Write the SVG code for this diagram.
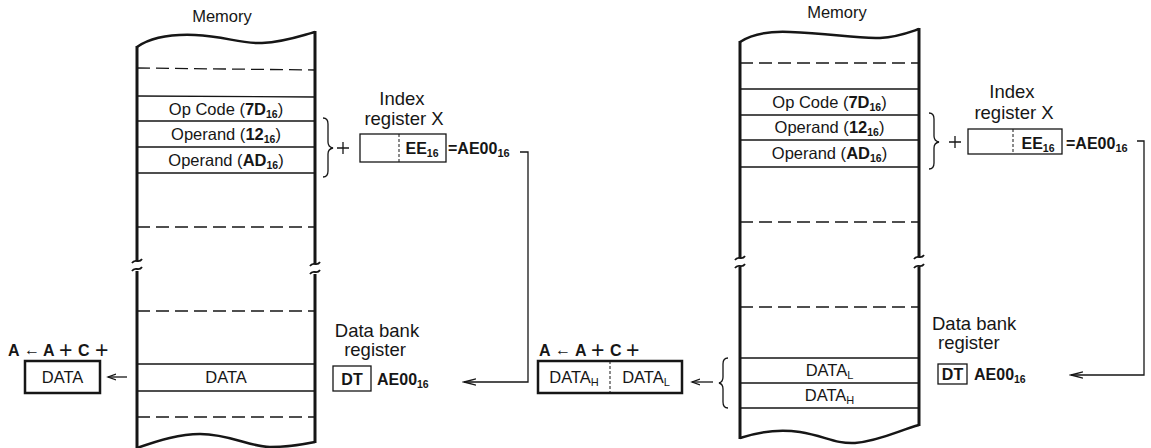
<svg xmlns="http://www.w3.org/2000/svg" width="1151" height="448" viewBox="0 0 1151 448">
<defs>
<style>
text{font-family:"Liberation Sans",Arial,sans-serif;fill:#161616}
.m{font-size:16.5px}
.l{font-size:18.5px}
.v{font-size:16px;font-weight:bold}
.b{font-weight:bold}
.edge{stroke:#161616;stroke-width:3;fill:none}
.wave{stroke:#161616;stroke-width:2.5;fill:none}
.row{stroke:#161616;stroke-width:1.3;fill:none}
.dash{stroke:#161616;stroke-width:1.3;stroke-dasharray:13 6;fill:none}
.box{stroke:#161616;stroke-width:1.3;fill:#fff}
.bbox{stroke:#161616;stroke-width:2.5;fill:#fff}
.conn{stroke:#161616;stroke-width:1.3;fill:none}
.vdash{stroke:#161616;stroke-width:1;stroke-dasharray:3 2;fill:none}
.brk{stroke:#161616;stroke-width:1.8;fill:none}
.thin{stroke:#161616;stroke-width:1.3;fill:none}
</style>
<marker id="ah" markerWidth="14" markerHeight="10" refX="12" refY="5" orient="auto" markerUnits="userSpaceOnUse">
<path d="M0,1.8 L12,5 L0,8.2" fill="none" stroke="#161616" stroke-width="1.3"/>
</marker>
<marker id="ahs" markerWidth="10" markerHeight="8" refX="8" refY="4" orient="auto" markerUnits="userSpaceOnUse">
<path d="M0,1 L8,4 L0,7" fill="none" stroke="#161616" stroke-width="1.3"/>
</marker>
</defs>
<rect width="1151" height="448" fill="#fff"/>

<!-- Left figure -->
<g id="memory-left">
<text class="m" x="222" y="22" text-anchor="middle" font-size="16">Memory</text>
<path class="wave" d="M137,47 C150,38 170,34 195,35 C225,36 240,44 262,43 C285,42 300,36 315,32"/>
<path class="edge" d="M137,46 V261 M137,271 V448 M315,31 V264 M315,274 V443"/>
<path class="brk" d="M132,263 C135,258 139,264 142,259 M132,271 C135,266 139,272 142,267 M310,266 C313,261 317,267 320,262 M310,274 C313,269 317,275 320,270"/>
<path class="wave" d="M137,448 C160,440 180,434 200,434 C230,434 250,447 270,447 C290,447 305,444 315,442"/>
<path class="dash" d="M137,68 L315,70 M137,227 H315 M137,311 H315 M137,417 H315"/>
<path class="row" d="M137,96 L315,97 M137,121 H315 M137,147 H315 M137,173 H315 M137,364 H315 M137,391 H315"/>
<text class="m" x="226" y="115" text-anchor="middle">Op Code (<tspan class="b">7D<tspan font-size="10.5" dy="3">16</tspan></tspan><tspan dy="-3">)</tspan></text>
<text class="m" x="226" y="140" text-anchor="middle">Operand (<tspan class="b">12<tspan font-size="10.5" dy="3">16</tspan></tspan><tspan dy="-3">)</tspan></text>
<text class="m" x="226" y="166" text-anchor="middle">Operand (<tspan class="b">AD<tspan font-size="10.5" dy="3">16</tspan></tspan><tspan dy="-3">)</tspan></text>
<text class="m" x="226" y="383" text-anchor="middle">DATA</text>
</g>

<g id="index-left">
<text class="l" x="402" y="105" text-anchor="middle">Index</text>
<text class="l" x="404" y="125" text-anchor="middle">register X</text>
<path class="thin" d="M323,118 Q328,118 328,124 L328,142 Q328,147 333,148 Q328,149 328,154 L328,171 Q328,177 323,177"/>
<path class="thin" d="M337,148 H349 M343,142 V154"/>
<rect class="box" x="360" y="134" width="86" height="28"/>
<line class="vdash" x1="399" y1="134" x2="399" y2="162"/>
<text class="v" x="422" y="154" text-anchor="middle">EE<tspan font-size="10.5" dy="3">16</tspan></text>
<text class="v" x="448" y="154" font-size="17">=AE00<tspan font-size="11" dy="3">16</tspan></text>
</g>

<g id="databank-left">
<text class="l" x="377" y="337" text-anchor="middle">Data bank</text>
<text class="l" x="375" y="356" text-anchor="middle">register</text>
<rect class="box" x="333" y="366" width="38" height="25"/>
<text class="v" x="352" y="385" text-anchor="middle">DT</text>
<text class="v" x="377" y="385">AE00<tspan font-size="10.5" dy="3">16</tspan></text>
</g>

<g id="acc-left">
<text class="v" font-size="17" y="356"><tspan x="8">A</tspan></text>
<text font-size="16" x="24" y="355">←</text>
<text class="v" font-size="17" y="356"><tspan x="43">A</tspan><tspan x="78">C</tspan></text>
<text font-size="23" x="59" y="358">+</text>
<text font-size="23" x="95" y="358">+</text>
<rect class="bbox" x="25" y="361" width="75" height="32"/>
<text class="m" x="62.5" y="383" text-anchor="middle">DATA</text>
</g>

<!-- Right figure -->
<g id="memory-right">
<text class="m" x="837" y="18" text-anchor="middle" font-size="16">Memory</text>
<path class="wave" d="M740,42 C752,34 768,31 790,32 C830,33 855,39 880,38 C898,37 910,32 919,29"/>
<path class="edge" d="M740,41 V258 M740,267 V439 M919,28 V257 M919,267 V426"/>
<path class="brk" d="M735,260 C738,255 742,261 745,256 M735,268 C738,263 742,269 745,264 M914,259 C917,254 921,260 924,255 M914,268 C917,263 921,269 924,264"/>
<path class="wave" d="M740,438 C758,432 780,429 800,432 C825,436 835,444 855,443 C880,441 900,430 919,425"/>
<path class="dash" d="M740,63 H919 M740,222 H919 M740,307 H919"/>
<path class="row" d="M740,89 H919 M740,115 H919 M740,140 H919 M740,167 H919 M740,358 H919 M740,383 H919 M740,408 H919"/>
<text class="m" x="829.5" y="108" text-anchor="middle">Op Code (<tspan class="b">7D<tspan font-size="10.5" dy="3">16</tspan></tspan><tspan dy="-3">)</tspan></text>
<text class="m" x="829.5" y="133" text-anchor="middle">Operand (<tspan class="b">12<tspan font-size="10.5" dy="3">16</tspan></tspan><tspan dy="-3">)</tspan></text>
<text class="m" x="829.5" y="159" text-anchor="middle">Operand (<tspan class="b">AD<tspan font-size="10.5" dy="3">16</tspan></tspan><tspan dy="-3">)</tspan></text>
<text class="m" x="829.5" y="376" text-anchor="middle">DATA<tspan font-size="11" dy="3">L</tspan></text>
<text class="m" x="829.5" y="401" text-anchor="middle">DATA<tspan font-size="11" dy="3">H</tspan></text>
</g>

<g id="index-right">
<text class="l" x="1012" y="98" text-anchor="middle">Index</text>
<text class="l" x="1014" y="119" text-anchor="middle">register X</text>
<path class="thin" d="M929,113 Q934,113 934,119 L934,136 Q934,141 939,142 Q934,143 934,148 L934,163 Q934,169 929,169"/>
<path class="thin" d="M949,142 H961 M955,136 V148"/>
<rect class="box" x="968" y="129" width="94" height="25"/>
<line class="vdash" x1="1013" y1="129" x2="1013" y2="154"/>
<text class="v" x="1038" y="149" text-anchor="middle">EE<tspan font-size="10.5" dy="3">16</tspan></text>
<text class="v" x="1066" y="149" font-size="17">=AE00<tspan font-size="11" dy="3">16</tspan></text>
</g>

<g id="databank-right">
<text class="l" x="932" y="330">Data bank</text>
<text class="l" x="938" y="349">register</text>
<rect class="box" x="938" y="364" width="29" height="20"/>
<text class="v" x="952.5" y="380" text-anchor="middle">DT</text>
<text class="v" x="974" y="380">AE00<tspan font-size="10.5" dy="3">16</tspan></text>
</g>

<g id="acc-middle">
<text class="v" font-size="17" y="356"><tspan x="539">A</tspan></text>
<text font-size="16" x="555" y="355">←</text>
<text class="v" font-size="17" y="356"><tspan x="575">A</tspan><tspan x="610">C</tspan></text>
<text font-size="23" x="591" y="358">+</text>
<text font-size="23" x="626" y="358">+</text>
<rect class="bbox" x="538" y="361" width="144" height="32"/>
<line class="vdash" x1="610" y1="361" x2="610" y2="393"/>
<text class="m" x="574" y="383" text-anchor="middle">DATA<tspan font-size="11" dy="3">H</tspan></text>
<text class="m" x="646" y="383" text-anchor="middle">DATA<tspan font-size="11" dy="3">L</tspan></text>
<path class="thin" d="M728,358 Q723,358 723,364 L723,377 Q723,382 719,383 Q723,384 723,389 L723,402 Q723,408 728,408"/>
</g>

<g id="connectors">
<path class="conn" d="M520,152 H528 V382 H464" marker-end="url(#ah)"/>
<path class="conn" d="M1137,141 H1144 V375 H1071" marker-end="url(#ah)"/>
<path class="conn" d="M127,377 H108" marker-end="url(#ahs)"/>
<path class="conn" d="M713,382 H692" marker-end="url(#ahs)"/>
</g>
</svg>
